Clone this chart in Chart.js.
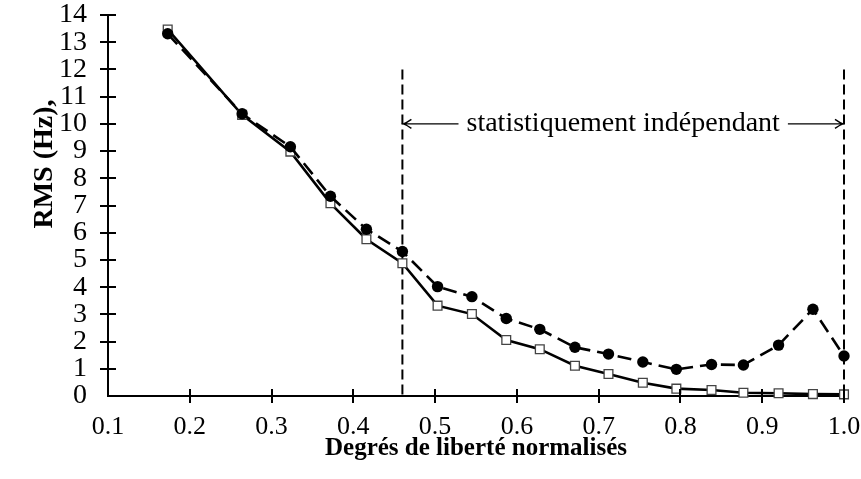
<!DOCTYPE html>
<html lang="fr">
<head>
<meta charset="utf-8">
<title>RMS en fonction des degrés de liberté</title>
<script src="https://cdn.jsdelivr.net/npm/chart.js@4.4.1/dist/chart.umd.min.js"></script>
<style>
  html, body { margin: 0; padding: 0; background: #fff; }
  #wrap { width: 861px; height: 479px; position: relative; }
</style>
</head>
<body>
<div id="wrap"><canvas id="rms-chart"></canvas></div>
<script>
// degrés de liberté normalisés (abscisse commune aux deux courbes)
const degres = [0.173, 0.264, 0.323, 0.372, 0.416, 0.46, 0.503, 0.545, 0.587, 0.628,
                0.671, 0.712, 0.754, 0.795, 0.838, 0.877, 0.920, 0.962, 1.0];
// RMS (Hz), courbe pointillée à ronds pleins
const rmsRonds = [13.31, 10.37, 9.16, 7.34, 6.13, 5.31, 4.02, 3.65, 2.85, 2.45,
                  1.79, 1.54, 1.25, 0.98, 1.16, 1.14, 1.87, 3.19, 1.47];
// RMS (Hz), courbe continue à carrés vides
const rmsCarres = [13.47, 10.33, 8.98, 7.08, 5.76, 4.88, 3.32, 3.01, 2.06, 1.72,
                   1.11, 0.81, 0.49, 0.27, 0.22, 0.12, 0.10, 0.07, 0.06];

// graduations des axes
const xTicks = [0.1, 0.2, 0.3, 0.4, 0.5, 0.6, 0.7, 0.8, 0.9, 1.0];
const yTicks = [0, 1, 2, 3, 4, 5, 6, 7, 8, 9, 10, 11, 12, 13, 14];

// zone "statistiquement indépendant"
const bornesZone = [0.46, 1.0];
const hautBornes = 12;
const hauteurFleche = 10;
const texteZone = 'statistiquement indépendant';
const titreY = 'RMS (Hz),';

const serif = "'Liberation Serif', 'Times New Roman', serif";
Chart.defaults.font.family = serif;
Chart.defaults.color = '#000';

const pts = (ys) => degres.map((x, i) => ({ x: x, y: ys[i] }));

// traits de graduation qui traversent les axes, comme en LaTeX
const graduations = {
  id: 'graduations',
  afterDraw(chart) {
    const ctx = chart.ctx;
    const xs = chart.scales.x, ys = chart.scales.y;
    const y0 = ys.getPixelForValue(0), x0 = xs.getPixelForValue(xTicks[0]);
    ctx.save();
    ctx.strokeStyle = '#000';
    ctx.lineWidth = 2;
    ctx.beginPath();
    xTicks.slice(1).forEach(v => {
      const px = Math.round(xs.getPixelForValue(v));
      ctx.moveTo(px, y0 - 7);
      ctx.lineTo(px, y0 + 7);
    });
    yTicks.slice(1).forEach(v => {
      const py = Math.round(ys.getPixelForValue(v));
      ctx.moveTo(x0 - 8, py);
      ctx.lineTo(x0 + 8, py);
    });
    ctx.stroke();

    // titre vertical, un peu au-dessus du milieu de l'axe
    ctx.translate(45, chart.chartArea.top + 149);
    ctx.rotate(-Math.PI / 2);
    ctx.font = 'bold 28px ' + serif;
    ctx.fillStyle = '#000';
    ctx.textAlign = 'center';
    ctx.textBaseline = 'middle';
    ctx.fillText(titreY, 0, 0);
    ctx.restore();
  }
};

function fleche(ctx, xa, xb, y) {
  // trait de xa vers xb, pointe en xb
  const dir = Math.sign(xb - xa);
  ctx.beginPath();
  ctx.moveTo(xa, y);
  ctx.lineTo(xb, y);
  ctx.moveTo(xb - dir * 8, y - 4.5);
  ctx.quadraticCurveTo(xb - dir * 3, y - 1, xb, y);
  ctx.quadraticCurveTo(xb - dir * 3, y + 1, xb - dir * 8, y + 4.5);
  ctx.stroke();
}

const zoneIndependante = {
  id: 'zoneIndependante',
  beforeDatasetsDraw(chart) {
    const ctx = chart.ctx;
    const xs = chart.scales.x, ys = chart.scales.y;
    const xa = xs.getPixelForValue(bornesZone[0]);
    const xb = xs.getPixelForValue(bornesZone[1]);
    const yHaut = ys.getPixelForValue(hautBornes);
    const yBas = ys.getPixelForValue(0);
    const yF = ys.getPixelForValue(hauteurFleche);
    ctx.save();
    ctx.strokeStyle = '#000';
    ctx.lineWidth = 2;
    ctx.setLineDash([10, 5]);
    ctx.beginPath();
    [xa, xb].forEach(px => {
      ctx.moveTo(px, yHaut);
      ctx.lineTo(px, yBas);
    });
    ctx.stroke();
    ctx.setLineDash([]);

    ctx.font = '28px ' + serif;
    ctx.fillStyle = '#000';
    ctx.textAlign = 'center';
    ctx.textBaseline = 'middle';
    const xm = (xa + xb) / 2;
    const w = ctx.measureText(texteZone).width;
    ctx.fillText(texteZone, xm, yF);

    ctx.lineWidth = 1.4;
    fleche(ctx, xm - w / 2 - 8, xa + 1, yF);
    fleche(ctx, xm + w / 2 + 8, xb - 1, yF);
    ctx.restore();
  }
};

new Chart(document.getElementById('rms-chart'), {
  type: 'line',
  data: {
    datasets: [{
      label: 'RMS ronds',
      data: pts(rmsRonds),
      borderColor: '#000',
      borderWidth: 2.6,
      borderDash: [14, 7],
      pointStyle: 'circle',
      pointRadius: 5.7,
      pointBackgroundColor: '#000',
      pointBorderWidth: 0,
      tension: 0,
      clip: false
    }, {
      label: 'RMS carrés',
      data: pts(rmsCarres),
      borderColor: '#000',
      borderWidth: 2.6,
      pointStyle: 'rect',
      pointRadius: 6.2,
      pointBackgroundColor: '#fff',
      pointBorderColor: '#444',
      pointBorderWidth: 1.3,
      tension: 0,
      clip: false
    }]
  },
  options: {
    responsive: true,
    maintainAspectRatio: false,
    animation: false,
    layout: { padding: { left: 0, right: 17, top: 15, bottom: 0 } },
    plugins: {
      legend: { display: false },
      tooltip: { enabled: false }
    },
    scales: {
      x: {
        type: 'linear',
        min: 0.1,
        max: 1.0,
        afterFit(scale) {
          scale.height = 83;
          scale.paddingLeft = 0;
          scale.paddingRight = 0;
        },
        afterBuildTicks(scale) { scale.ticks = xTicks.map(v => ({ value: v })); },
        grid: { display: false, drawTicks: false },
        border: { display: true, color: '#000', width: 2 },
        ticks: {
          padding: 16,
          autoSkip: false,
          maxRotation: 0,
          font: { size: 26 },
          callback: v => v.toFixed(1)
        },
        title: {
          display: true,
          text: 'Degrés de liberté normalisés',
          font: { size: 25, weight: 'bold' },
          padding: { top: 15, bottom: 15 }
        }
      },
      y: {
        type: 'linear',
        min: 0,
        max: 14,
        afterFit(scale) {
          scale.width = 108;
          scale.paddingTop = 0;
          scale.paddingBottom = 0;
        },
        afterBuildTicks(scale) { scale.ticks = yTicks.map(v => ({ value: v })); },
        grid: { display: false, drawTicks: false },
        border: { display: true, color: '#000', width: 2 },
        ticks: {
          padding: 21,
          autoSkip: false,
          font: { size: 28 }
        }
      }
    }
  },
  plugins: [zoneIndependante, graduations]
});
</script>
</body>
</html>
